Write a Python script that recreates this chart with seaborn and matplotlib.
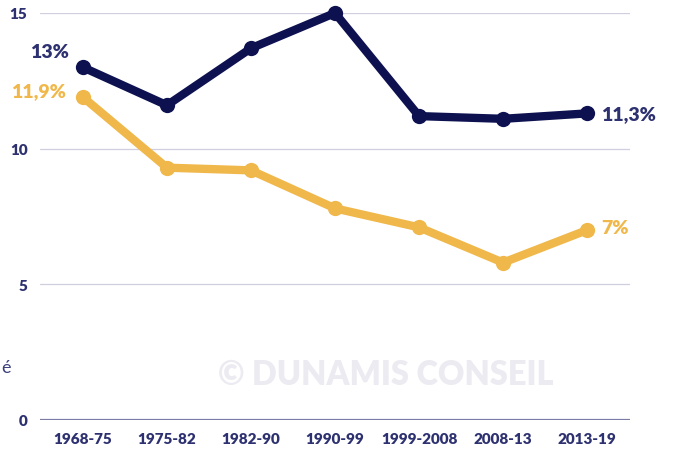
import numpy as np
import pandas as pd
import matplotlib
matplotlib.use("Agg")
import matplotlib.pyplot as plt
import seaborn as sns

periods = ["1968-75", "1975-82", "1982-90", "1990-99", "1999-2008", "2008-13", "2013-19"]
navy_values = [13.0, 11.6, 13.7, 15.0, 11.2, 11.1, 11.3]
yellow_values = [11.9, 9.3, 9.2, 7.8, 7.1, 5.8, 7.0]
series_names = ["navy", "yellow"]
y_ticks = [0, 5, 10, 15]

NAVY = "#0d1150"
YELLOW = "#f0b84a"
TXT = "#2d3170"

sns.set_theme(style="white")
plt.rcParams["font.family"] = ["Lato", "DejaVu Sans"]

df = pd.DataFrame({
    "x": list(range(len(periods))) * 2,
    "value": navy_values + yellow_values,
    "series": [series_names[0]] * len(periods) + [series_names[1]] * len(periods),
})

fig = plt.figure(figsize=(6.75, 4.52), dpi=100)
ax = fig.add_axes([40 / 675, 31 / 452, 590 / 675, 407 / 452])

sns.lineplot(data=df, x="x", y="value", hue="series",
             palette={"navy": NAVY, "yellow": YELLOW},
             marker="o", markersize=11, markeredgewidth=0, linewidth=6,
             legend=False, ax=ax, clip_on=False, zorder=3)

ax.set_xlim(-0.51, 6.51)
ax.set_ylim(0, 15)
ax.set_yticks(y_ticks)
ax.set_xticks(range(len(periods)))
ax.set_xticklabels(periods)
ax.set_xlabel("")
ax.set_ylabel("")
for s in ax.spines.values():
    s.set_visible(False)
ax.grid(axis="y", color="#cfcfe0", linewidth=0.9)
ax.grid(axis="x", visible=False)
ax.axhline(0, color="#7b7ca6", linewidth=1.6, zorder=2)
ax.tick_params(axis="both", length=0, colors=TXT, labelsize=11)
ax.tick_params(axis="y", pad=9)
ax.tick_params(axis="x", pad=9)
for lbl in ax.get_xticklabels() + ax.get_yticklabels():
    lbl.set_fontweight("heavy")
    lbl.set_color(TXT)

# end labels
ax.annotate("13%", (0, navy_values[0]), xytext=(-10, 11), textcoords="offset points",
            ha="right", va="center", fontsize=14, fontweight="heavy", color=TXT)
ax.annotate("11,9%", (0, yellow_values[0]), xytext=(-12, 5), textcoords="offset points",
            ha="right", va="center", fontsize=14, fontweight="heavy", color=YELLOW)
ax.annotate("11,3%", (6, navy_values[-1]), xytext=(10, 0), textcoords="offset points",
            ha="left", va="center", fontsize=14, fontweight="heavy", color=TXT)
ax.annotate("7%", (6, yellow_values[-1]), xytext=(10, 2), textcoords="offset points",
            ha="left", va="center", fontsize=14, fontweight="heavy", color=YELLOW)

# watermark
fig.text(386 / 675, 1 - 375 / 452, "\u00a9 DUNAMIS CONSEIL", ha="center", va="center",
         fontsize=23.5, fontweight="heavy", color="#ebebf1", zorder=0)

# small stray label on the far left
fig.text(1 / 675, 1 - 368 / 452, "é", ha="left", va="center",
         fontsize=13, color="#3a3f7a", fontweight="normal")

fig.savefig("out.png", dpi=100)
